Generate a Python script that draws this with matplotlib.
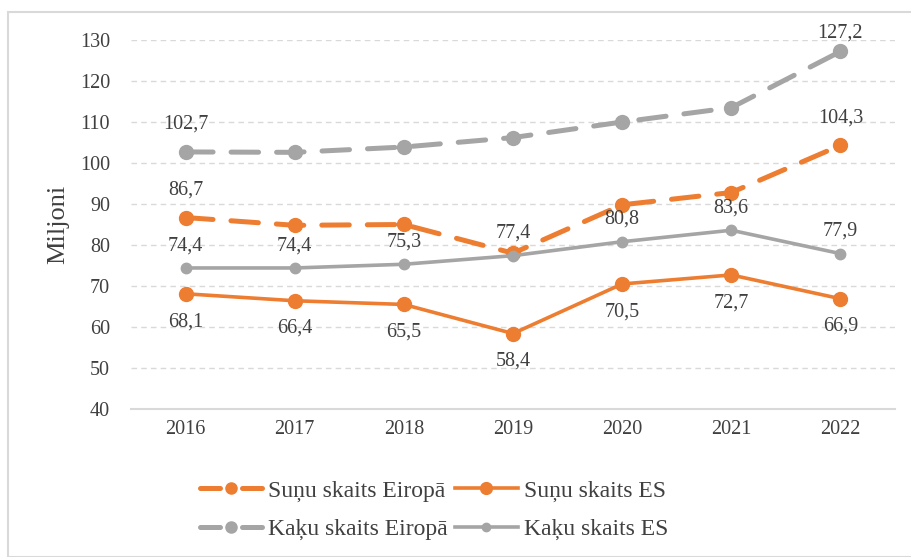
import matplotlib
matplotlib.use("Agg")
import matplotlib.pyplot as plt
from matplotlib.patches import Rectangle
from matplotlib.lines import Line2D

years = ["2016", "2017", "2018", "2019", "2020", "2021", "2022"]
dogs_europe = [86.7, 84.8, 85.0, 78.0, 89.8, 92.8, 104.3]
dogs_es = [68.1, 66.4, 65.5, 58.4, 70.5, 72.7, 66.9]
cats_europe = [102.7, 102.6, 103.9, 106.2, 110.0, 113.5, 127.2]
cats_es = [74.4, 74.4, 75.3, 77.4, 80.8, 83.6, 77.9]
series_names = ["Suņu skaits Eiropā", "Suņu skaits ES", "Kaķu skaits Eiropā", "Kaķu skaits ES"]
yticks = [40, 50, 60, 70, 80, 90, 100, 110, 120, 130]

ORANGE = "#ED7D31"
GRAY = "#A5A5A5"
TXT = "#404040"
plt.rcParams['font.family'] = ['Liberation Serif', 'DejaVu Serif']

fig = plt.figure(figsize=(9.12, 5.57), dpi=100)
ax = fig.add_axes([131/912, 1-409/557, (895-131)/912, (409-40)/557])
x = list(range(len(years)))

DASH = (0, (5.5, 3.6))
ax.plot(x, dogs_europe, color=ORANGE, lw=3.6, ls=DASH, marker="o", ms=10, dash_capstyle="round")
ax.plot(x, dogs_es, color=ORANGE, lw=2.6, marker="o", ms=10)
ax.plot(x, cats_europe, color=GRAY, lw=3.6, ls=DASH, marker="o", ms=10, dash_capstyle="round")
ax.plot(x, cats_es, color=GRAY, lw=2.6, marker="o", ms=7.5)

fs = 14.5
def lab(xi, v, dy):
    ax.annotate(f"{v:.1f}".replace(".", ","), (xi, v), xytext=(0, dy), textcoords="offset points",
                ha="center", va="center", fontsize=fs, color=TXT)

lab(0, cats_europe[0], 20)
lab(6, cats_europe[6], 13)
lab(0, dogs_europe[0], 20)
lab(6, dogs_europe[6], 20)
for i, v in enumerate(cats_es):
    lab(i, v, 16)
for i, v in enumerate(dogs_es):
    lab(i, v, -20)

ax.set_xlim(-0.5, 6.5)
ax.set_ylim(40, 130)
ax.set_yticks(yticks)
ax.set_xticks(x)
ax.set_xticklabels(years)
ax.tick_params(length=0, labelsize=fs, labelcolor=TXT, pad=8)
ax.tick_params(axis="y", pad=15)
ax.grid(axis="y", color="#D9D9D9", ls=(0, (4, 3)), lw=1)
ax.set_axisbelow(True)
for s in ("top", "right", "left"):
    ax.spines[s].set_visible(False)
ax.spines["bottom"].set_color("#D9D9D9")
ax.spines["bottom"].set_linewidth(1.5)
ax.set_ylabel("Miljoni", fontsize=19, color=TXT, labelpad=8)

LDASH = (0, (4.0, 4.4))
h1 = Line2D([], [], color=ORANGE, lw=3.6, ls=LDASH, marker="o", ms=8, dash_capstyle="round")
h2 = Line2D([], [], color=ORANGE, lw=2.6, marker="o", ms=8.5)
h3 = Line2D([], [], color=GRAY, lw=3.6, ls=LDASH, marker="o", ms=8, dash_capstyle="round")
h4 = Line2D([], [], color=GRAY, lw=2.6, marker="o", ms=6)
fig.legend(handles=[h1, h3, h2, h4], labels=[series_names[0], series_names[2], series_names[1], series_names[3]],
           loc="center", ncol=2, bbox_to_anchor=(434/912, 1-510/557),
           frameon=False, fontsize=17, handlelength=2.65, columnspacing=0.3, handletextpad=0.25,
           labelspacing=0.72, labelcolor=TXT)

fig.patches.append(Rectangle((8/912, 0), 1, 1-12/557, transform=fig.transFigure,
                             fill=False, edgecolor="#D9D9D9", lw=1.5))
fig.savefig("out.png", dpi=100)
